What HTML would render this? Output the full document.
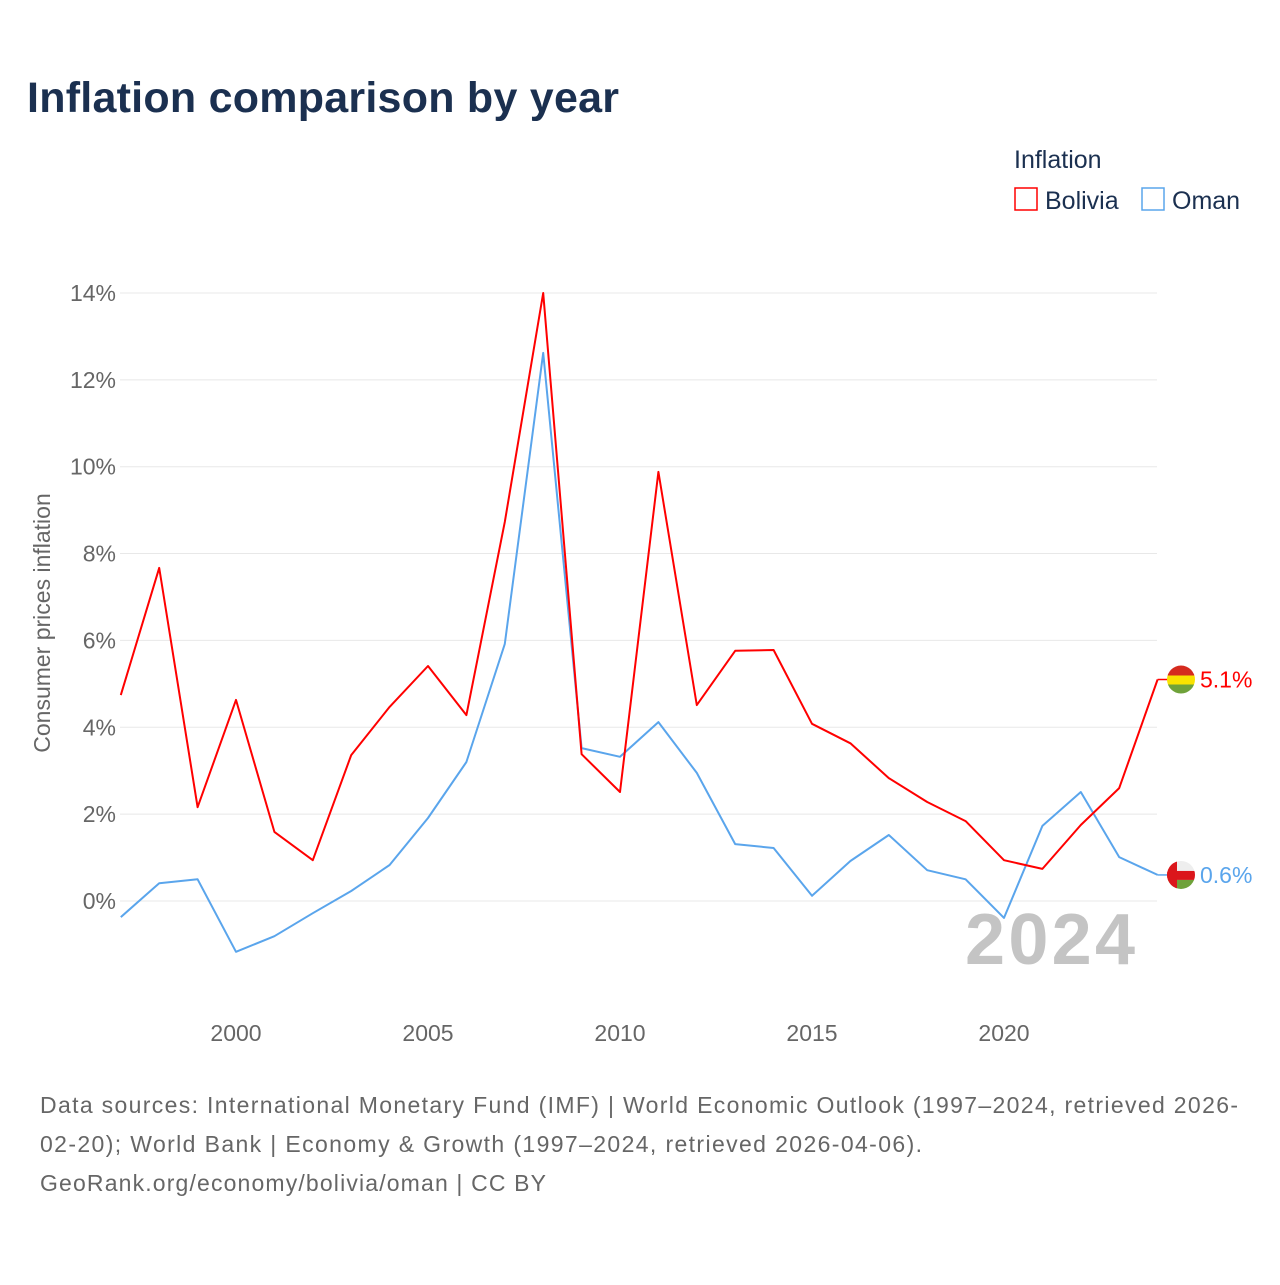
<!DOCTYPE html>
<html><head><meta charset="utf-8"><style>
body{margin:0;background:#fff;width:1280px;height:1280px;overflow:hidden;font-family:"Liberation Sans",sans-serif}
</style></head><body>
<svg width="1280" height="1280" xmlns="http://www.w3.org/2000/svg">
<text x="27" y="112" font-size="43" font-weight="bold" fill="#1b3050" textLength="592">Inflation comparison by year</text>
<text x="1014" y="168" font-size="25" fill="#1b3050">Inflation</text>
<g><rect x="1015" y="188" width="22" height="22" fill="none" stroke="#f00" stroke-width="1.5"/><text x="1045" y="209" font-size="25" fill="#1b3050">Bolivia</text></g>
<g><rect x="1142" y="188" width="22" height="22" fill="none" stroke="#5aa5ec" stroke-width="1.5"/><text x="1172" y="209" font-size="25" fill="#1b3050">Oman</text></g>
<g id="grid"></g><g id="yt"></g><g id="xt"></g>
<text x="965" y="964" font-size="72" font-weight="bold" fill="#c4c4c4" textLength="170">2024</text>
<text transform="translate(50,623) rotate(-90)" font-size="23" fill="#666" text-anchor="middle">Consumer prices inflation</text>
<g id="series"></g>
<g font-size="23" fill="#666">
<text x="40" y="1113" textLength="1198">Data sources: International Monetary Fund (IMF) | World Economic Outlook (1997–2024, retrieved 2026-</text>
<text x="40" y="1152" textLength="882">02-20); World Bank | Economy &amp; Growth (1997–2024, retrieved 2026-04-06).</text>
<text x="40" y="1191" textLength="506">GeoRank.org/economy/bolivia/oman | CC BY</text>
</g>
</svg>
<script>
const years=[1997,1998,1999,2000,2001,2002,2003,2004,2005,2006,2007,2008,2009,2010,2011,2012,2013,2014,2015,2016,2017,2018,2019,2020,2021,2022,2023,2024];
const bolivia=[4.74,7.67,2.16,4.63,1.59,0.94,3.36,4.47,5.41,4.28,8.73,14.0,3.38,2.51,9.88,4.51,5.76,5.78,4.08,3.63,2.83,2.28,1.84,0.94,0.74,1.75,2.6,5.1];
const oman=[-0.37,0.41,0.5,-1.17,-0.81,-0.28,0.23,0.83,1.91,3.2,5.92,12.62,3.52,3.32,4.12,2.95,1.31,1.22,0.12,0.92,1.52,0.71,0.5,-0.39,1.73,2.51,1.01,0.6];
const yTicks=[0,2,4,6,8,10,12,14];
const xTicks=[2000,2005,2010,2015,2020];
const NS="http://www.w3.org/2000/svg";
const X=y=>120.8+(y-1997)*38.4, Y=v=>901-v*43.43;
function mk(t,a,p){const e=document.createElementNS(NS,t);for(const k in a)e.setAttribute(k,a[k]);p.appendChild(e);return e;}
const grid=document.getElementById('grid'),yt=document.getElementById('yt'),xt=document.getElementById('xt'),ser=document.getElementById('series');
yTicks.forEach(v=>{
 const l=mk('line',{x1:120,x2:1157,y1:Y(v),y2:Y(v),stroke:'#e8e8e8','stroke-width':1},grid);
 
 
 const t=mk('text',{x:116,y:Y(v)+8,'font-size':23,fill:'#666','text-anchor':'end'},yt);t.textContent=v+'%';
 
 
});
xTicks.forEach(v=>{
 const t=mk('text',{x:X(v),y:1041,'font-size':23,fill:'#666','text-anchor':'middle'},xt);t.textContent=v;
 
 
});
function line(vals,col,name,flag){
 const d=vals.map((v,i)=>(i?'L':'M')+X(years[i]).toFixed(1)+','+Y(v).toFixed(1)).join('');
 const p=mk('path',{d:d,fill:'none',stroke:col,'stroke-width':2,'stroke-linejoin':'round'},ser);
 
 
 const lv=vals[vals.length-1],ly=Y(lv),lx=X(years[years.length-1]);
 mk('line',{x1:lx,x2:1168,y1:ly,y2:ly,stroke:col,'stroke-width':1.5},ser);
 const g=mk('g',{},ser);
 
 
 const cp='c'+name;
 const c=mk('clipPath',{id:cp},g);mk('circle',{cx:1181,cy:ly,r:14},c);
 const gg=mk('g',{'clip-path':'url(#'+cp+')'},g);
 if(flag==='bo'){mk('rect',{x:1167,y:ly-14,width:28,height:10,fill:'#d52b1e'},gg);mk('rect',{x:1167,y:ly-4,width:28,height:9,fill:'#f9e300'},gg);mk('rect',{x:1167,y:ly+5,width:28,height:10,fill:'#6fa23a'},gg);}
 else{mk('rect',{x:1167,y:ly-14,width:28,height:10,fill:'#eee'},gg);mk('rect',{x:1167,y:ly-4,width:28,height:9,fill:'#db161b'},gg);mk('rect',{x:1167,y:ly+5,width:28,height:10,fill:'#6fa23a'},gg);mk('rect',{x:1167,y:ly-14,width:10,height:28,fill:'#db161b'},gg);}
 const t=mk('text',{x:1200,y:ly+8,'font-size':23,fill:col},ser);t.textContent=lv.toFixed(1)+'%';
 
 
}
line(oman,'#5aa5ec','oman','om');
line(bolivia,'#f00','bolivia','bo');
</script>
</body></html>
